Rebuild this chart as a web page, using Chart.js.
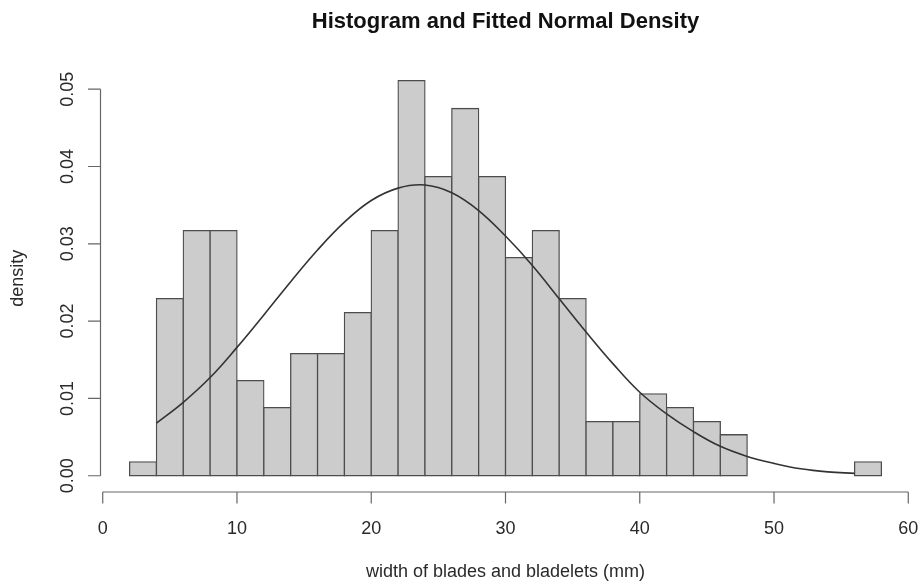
<!DOCTYPE html>
<html>
<head>
<meta charset="utf-8">
<script src="https://cdn.jsdelivr.net/npm/chart.js@4.4.1/dist/chart.umd.min.js"></script>
<style>
html,body{margin:0;padding:0;background:#ffffff;}
#wrap{width:921px;height:586px;position:relative;}
</style>
</head>
<body>
<div id="wrap"><canvas id="c" width="921" height="586"></canvas></div>
<script>
// ---- chart text ----
const titleText = "Histogram and Fitted Normal Density";
const xAxisTitle = "width of blades and bladelets (mm)";
const yAxisTitle = "density";

// ---- histogram: bin edges (mm) and density per bin ----
const binEdges = [2,4,6,8,10,12,14,16,18,20,22,24,26,28,30,32,34,36,38,40,42,44,46,48,50,52,54,56,58];
const binDensity = [0.0018,0.0229,0.0317,0.0317,0.0123,0.0088,0.0158,0.0158,0.0211,0.0317,
                    0.0511,0.0387,0.0475,0.0387,0.0282,0.0317,0.0229,0.0070,0.0070,0.0106,
                    0.0088,0.0070,0.0053,0,0,0,0,0.0018];

// ---- fitted normal density curve ----
const curveX = [4,6,8,10,12,14,16,18,20,22,24,26,28,30,32,34,36,38,40,42,44,46,48,50,52,54,56];
const curveDensity = [0.0068,0.0095,0.0127,0.0166,0.0208,0.0251,0.0292,0.0328,0.0356,0.0372,
                      0.0376,0.0366,0.0343,0.0310,0.0272,0.0229,0.0186,0.0145,0.0108,0.0080,
                      0.0057,0.0038,0.0025,0.0016,0.0009,0.0005,0.0003];

// ---- tick labels ----
const xTickLabels = [0,10,20,30,40,50,60];
const yTickLabels = [0.00,0.01,0.02,0.03,0.04,0.05];

const barData = binDensity.map((d, i) => ({x: (binEdges[i] + binEdges[i + 1]) / 2, y: d}));
const curveData = curveX.map((x, i) => ({x: x, y: curveDensity[i]}));

const FONT = '"Liberation Sans", Arial, Helvetica, sans-serif';

const axesPlugin = {
  id: 'rAxes',
  afterDraw(chart) {
    const ctx = chart.ctx;
    const xs = chart.scales.x, ys = chart.scales.y;
    const area = chart.chartArea;
    ctx.save();
    // axis lines and ticks
    ctx.strokeStyle = '#666666';
    ctx.lineWidth = 1.2;
    const axY = area.bottom + 0.5;
    ctx.beginPath();
    ctx.moveTo(xs.getPixelForValue(xTickLabels[0]), axY);
    ctx.lineTo(xs.getPixelForValue(xTickLabels[xTickLabels.length - 1]), axY);
    xTickLabels.forEach(v => {
      const px = xs.getPixelForValue(v);
      ctx.moveTo(px, axY);
      ctx.lineTo(px, axY + 11.5);
    });
    const axX = area.left + 1;
    ctx.moveTo(axX, ys.getPixelForValue(yTickLabels[0]));
    ctx.lineTo(axX, ys.getPixelForValue(yTickLabels[yTickLabels.length - 1]));
    yTickLabels.forEach(v => {
      const py = ys.getPixelForValue(v);
      ctx.moveTo(axX, py);
      ctx.lineTo(axX - 12.5, py);
    });
    ctx.stroke();

    // tick labels
    ctx.fillStyle = '#2a2a2a';
    ctx.font = '18px ' + FONT;
    ctx.textAlign = 'center';
    ctx.textBaseline = 'alphabetic';
    xTickLabels.forEach(v => {
      ctx.fillText(String(v), xs.getPixelForValue(v), 533.5);
    });
    yTickLabels.forEach(v => {
      ctx.save();
      ctx.translate(72.7, ys.getPixelForValue(v));
      ctx.rotate(-Math.PI / 2);
      ctx.fillText(v.toFixed(2), 0, 0);
      ctx.restore();
    });

    // axis titles
    const midX = (area.left + area.right) / 2;
    const midY = (area.top + area.bottom) / 2;
    ctx.fillText(xAxisTitle, midX, 577.3);
    ctx.save();
    ctx.translate(23, midY);
    ctx.rotate(-Math.PI / 2);
    ctx.fillText(yAxisTitle, 0, 0);
    ctx.restore();

    // main title
    ctx.fillStyle = '#111111';
    ctx.font = 'bold 22px ' + FONT;
    ctx.fillText(titleText, midX, 28.3);
    ctx.restore();
  }
};

new Chart(document.getElementById('c'), {
  data: {
    datasets: [
      {
        type: 'line',
        label: 'normal density',
        data: curveData,
        borderColor: '#333333',
        borderWidth: 1.6,
        pointRadius: 0,
        fill: false,
        tension: 0.4,
        order: 0
      },
      {
        type: 'bar',
        label: 'histogram',
        data: barData,
        backgroundColor: '#cccccc',
        borderColor: '#4d4d4d',
        borderWidth: 1.3,
        borderSkipped: false,
        inflateAmount: 0.65,
        barPercentage: 1,
        categoryPercentage: 1,
        grouped: false,
        order: 1
      }
    ]
  },
  options: {
    responsive: false,
    animation: false,
    devicePixelRatio: 1,
    layout: { padding: { left: 99.5, right: 9.5, top: 65.2, bottom: 94.5 } },
    plugins: { legend: { display: false }, title: { display: false }, tooltip: { enabled: false } },
    scales: {
      x: { type: 'linear', min: -0.24, max: 60.24, offset: false, display: false },
      y: { type: 'linear', min: -0.00204, max: 0.0531, display: false }
    }
  },
  plugins: [axesPlugin]
});
</script>
</body>
</html>
